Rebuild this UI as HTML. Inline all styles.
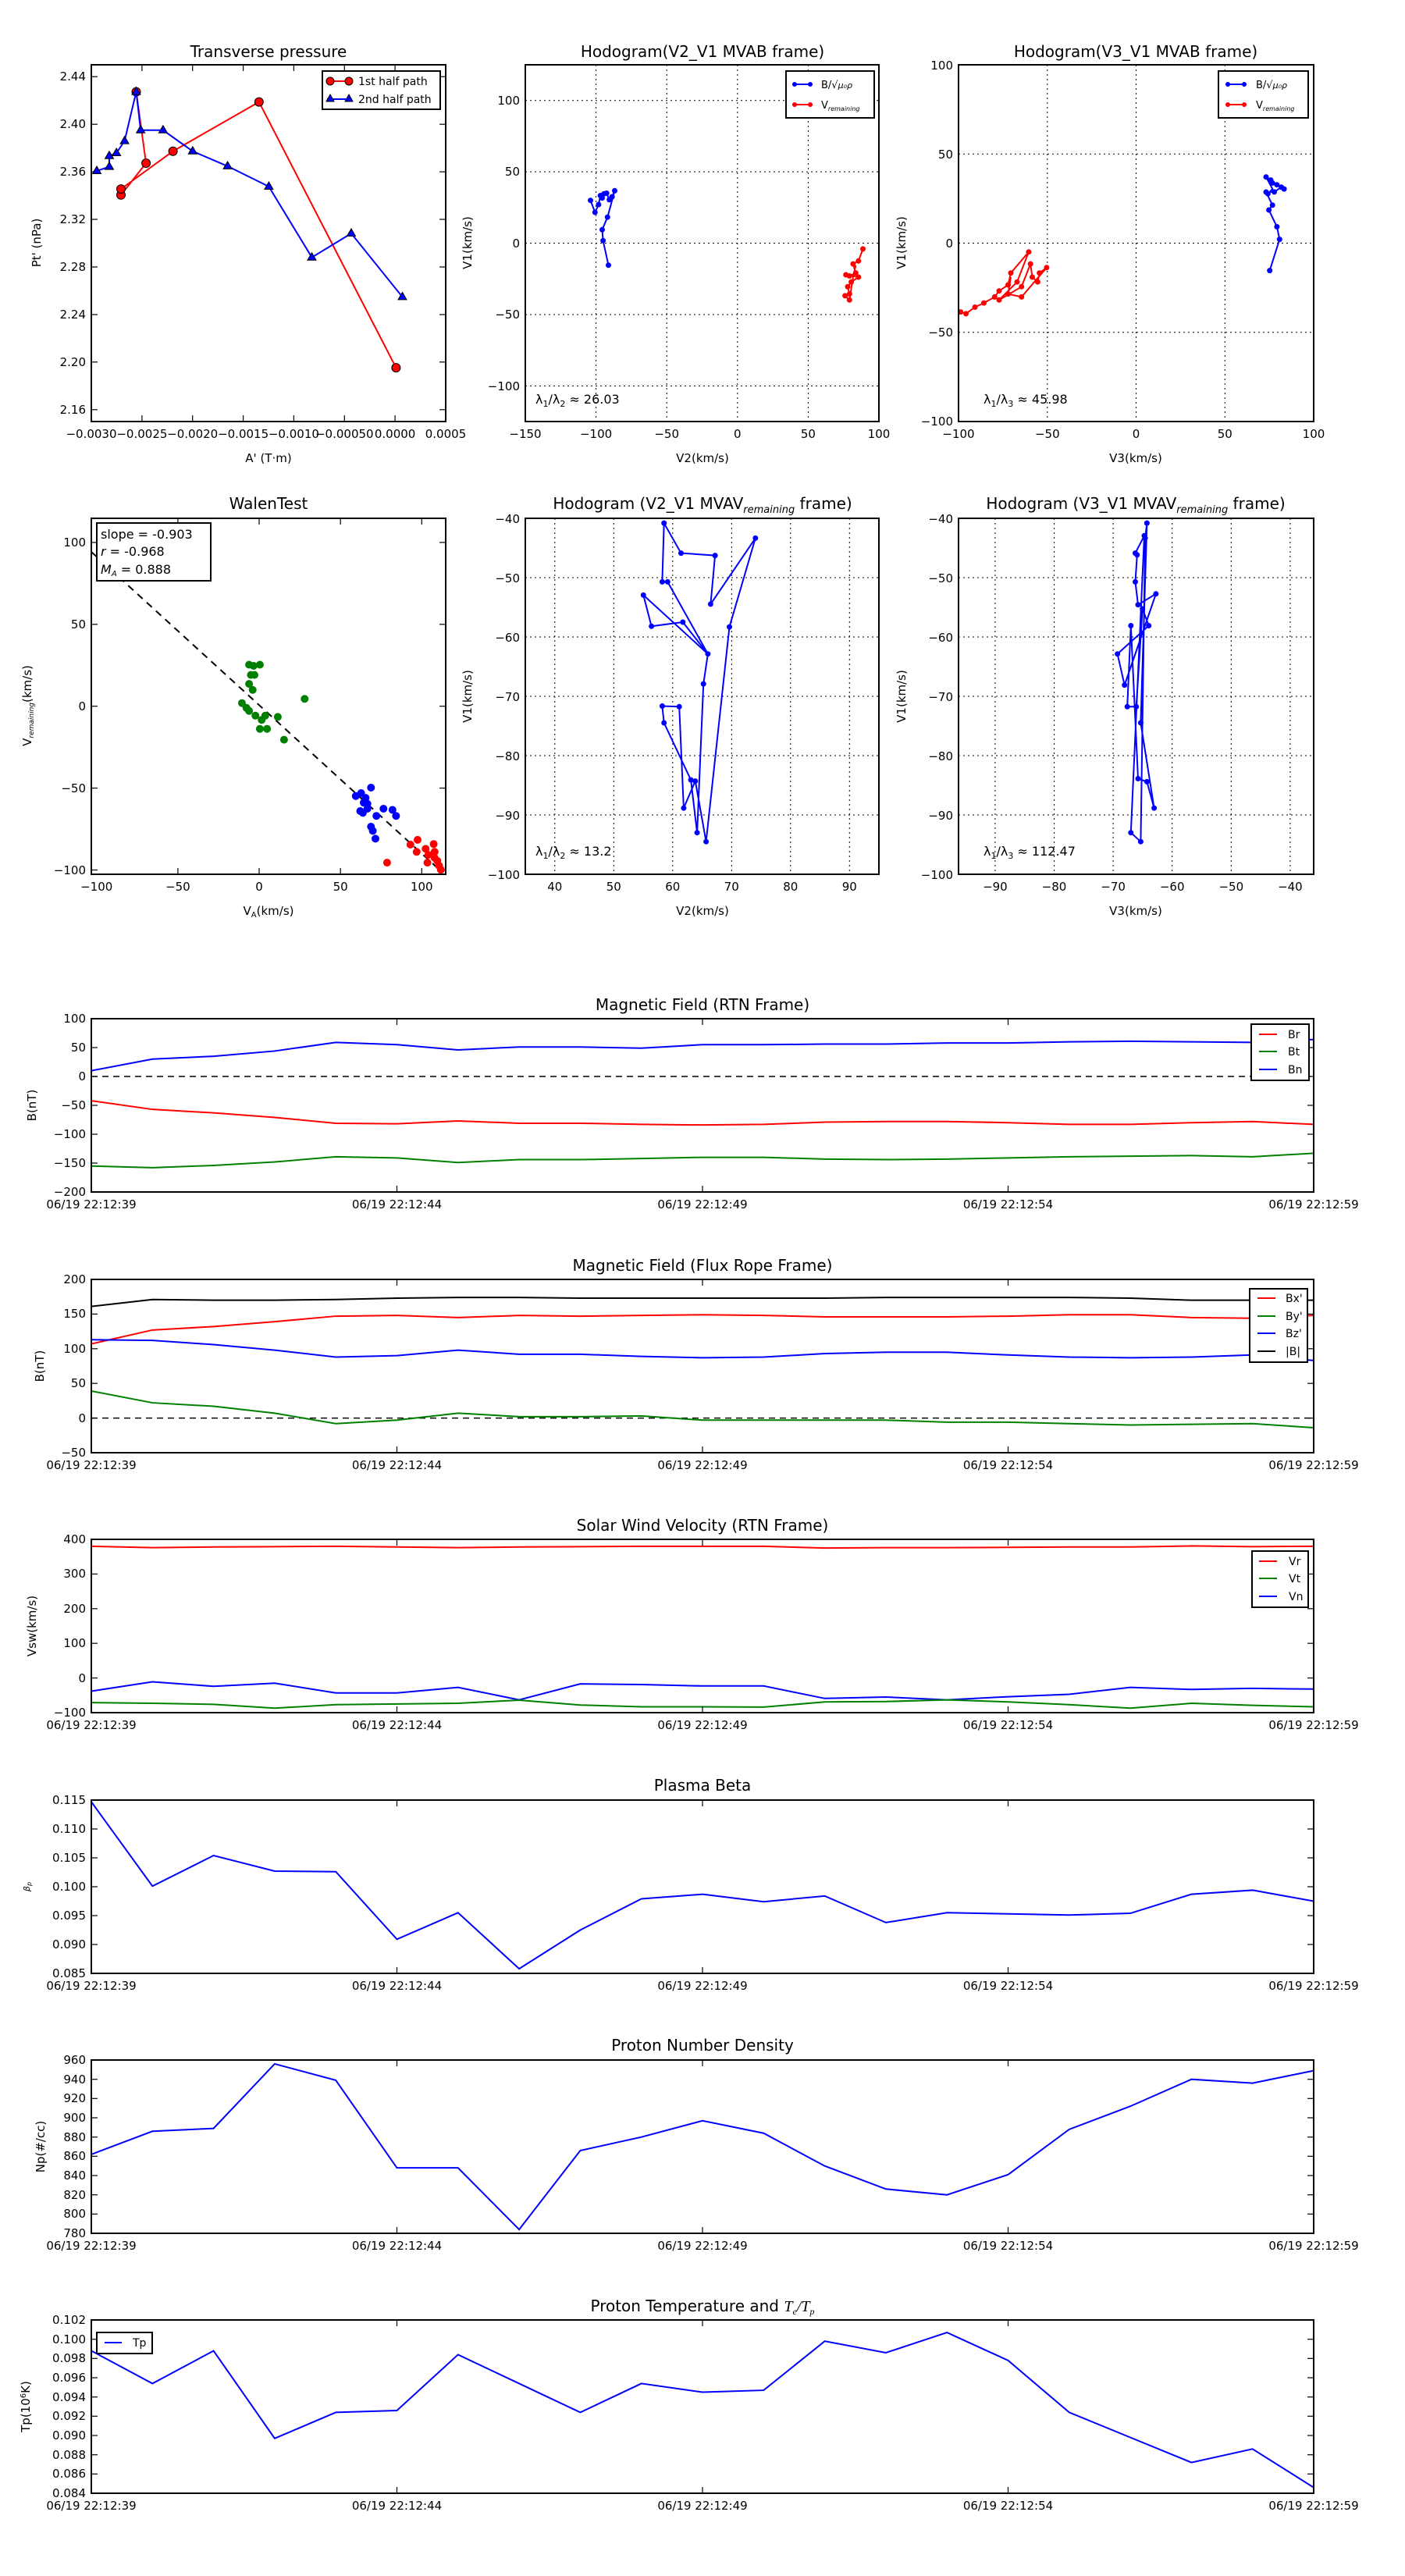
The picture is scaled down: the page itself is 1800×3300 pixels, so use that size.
<!DOCTYPE html>
<html><head><meta charset="utf-8"><style>
html,body{margin:0;padding:0;background:#fff}
svg{display:block}
text{font-family:"DejaVu Sans","Liberation Sans",sans-serif;fill:#000}
.t{font-size:15px}
.ti{font-size:20px}
.ax{fill:none;stroke:#000;stroke-width:2}
.tk{stroke:#000;stroke-width:1.2}
.grid{stroke:#000;stroke-width:1;stroke-dasharray:2,4}
.ln{fill:none;stroke-width:2;vector-effect:non-scaling-stroke}
</style></head><body>
<svg width="1800" height="3300" viewBox="0 0 1800 3300" xmlns="http://www.w3.org/2000/svg">
<rect width="1800" height="3300" fill="#fff"/>

<!-- ============ Plot 1: Transverse pressure ============ -->
<text class="ti" x="344" y="73" text-anchor="middle">Transverse pressure</text>
<g class="tk">
<line x1="117" y1="98.2" x2="125" y2="98.2"/><line x1="117" y1="159.2" x2="125" y2="159.2"/><line x1="117" y1="220.1" x2="125" y2="220.1"/><line x1="117" y1="281" x2="125" y2="281"/><line x1="117" y1="342" x2="125" y2="342"/><line x1="117" y1="403" x2="125" y2="403"/><line x1="117" y1="463.8" x2="125" y2="463.8"/><line x1="117" y1="524.8" x2="125" y2="524.8"/>
<line x1="571" y1="98.2" x2="563" y2="98.2"/><line x1="571" y1="159.2" x2="563" y2="159.2"/><line x1="571" y1="220.1" x2="563" y2="220.1"/><line x1="571" y1="281" x2="563" y2="281"/><line x1="571" y1="342" x2="563" y2="342"/><line x1="571" y1="403" x2="563" y2="403"/><line x1="571" y1="463.8" x2="563" y2="463.8"/><line x1="571" y1="524.8" x2="563" y2="524.8"/>
<line x1="181.9" y1="83" x2="181.9" y2="91"/><line x1="246.7" y1="83" x2="246.7" y2="91"/><line x1="311.6" y1="83" x2="311.6" y2="91"/><line x1="376.4" y1="83" x2="376.4" y2="91"/><line x1="441.3" y1="83" x2="441.3" y2="91"/><line x1="506.1" y1="83" x2="506.1" y2="91"/>
<line x1="181.9" y1="540" x2="181.9" y2="532"/><line x1="246.7" y1="540" x2="246.7" y2="532"/><line x1="311.6" y1="540" x2="311.6" y2="532"/><line x1="376.4" y1="540" x2="376.4" y2="532"/><line x1="441.3" y1="540" x2="441.3" y2="532"/><line x1="506.1" y1="540" x2="506.1" y2="532"/>
</g>
<g class="t" text-anchor="end">
<text x="110" y="103">2.44</text><text x="110" y="164">2.40</text><text x="110" y="225">2.36</text><text x="110" y="286">2.32</text><text x="110" y="347">2.28</text><text x="110" y="408">2.24</text><text x="110" y="469">2.20</text><text x="110" y="530">2.16</text>
</g>
<g class="t" text-anchor="middle">
<text x="117" y="561">−0.0030</text><text x="181.9" y="561">−0.0025</text><text x="246.7" y="561">−0.0020</text><text x="311.6" y="561">−0.0015</text><text x="376.4" y="561">−0.0010</text><text x="441.3" y="561">−0.00050</text><text x="506.1" y="561">0.0000</text><text x="571" y="561">0.0005</text>
</g>
<text class="t" x="344" y="592" text-anchor="middle">A' (T·m)</text>
<text class="t" x="52" y="311" text-anchor="middle" transform="rotate(-90 52 311)">Pt' (nPa)</text>
<polyline class="ln" stroke="#f00" points="174.5,117.6 187.1,209 155,249.8 155,242.1 221.6,193.7 331.8,130.6 507.4,471.1"/>
<g fill="#f00" stroke="#000" stroke-width="1">
<circle cx="174.5" cy="117.6" r="5.5"/><circle cx="187.1" cy="209" r="5.5"/><circle cx="155" cy="249.8" r="5.5"/><circle cx="155" cy="242.1" r="5.5"/><circle cx="221.6" cy="193.7" r="5.5"/><circle cx="331.8" cy="130.6" r="5.5"/><circle cx="507.4" cy="471.1" r="5.5"/>
</g>
<polyline class="ln" stroke="#00f" points="124,219 140,213.6 140,199.8 149.2,196 159.6,180.6 174.5,117.6 180.2,166.8 208.9,166.8 246.8,193.7 291.6,212.9 344.4,239 399.5,329.7 450,299 515.5,380.4"/>
<g fill="#00f" stroke="#000" stroke-width="1">
<path d="M124,213 l5.5,9.5 h-11z"/><path d="M140,207.6 l5.5,9.5 h-11z"/><path d="M140,193.8 l5.5,9.5 h-11z"/><path d="M149.2,190 l5.5,9.5 h-11z"/><path d="M159.6,174.6 l5.5,9.5 h-11z"/><path d="M174.5,111.6 l5.5,9.5 h-11z"/><path d="M180.2,160.8 l5.5,9.5 h-11z"/><path d="M208.9,160.8 l5.5,9.5 h-11z"/><path d="M246.8,187.7 l5.5,9.5 h-11z"/><path d="M291.6,206.9 l5.5,9.5 h-11z"/><path d="M344.4,233 l5.5,9.5 h-11z"/><path d="M399.5,323.7 l5.5,9.5 h-11z"/><path d="M450,293 l5.5,9.5 h-11z"/><path d="M515.5,374.4 l5.5,9.5 h-11z"/>
</g>
<rect x="413" y="91" width="151" height="49" fill="#fff" stroke="#000" stroke-width="2"/>
<line x1="419" y1="104" x2="451" y2="104" stroke="#f00" stroke-width="2"/>
<circle cx="423" cy="104" r="5" fill="#f00" stroke="#000"/><circle cx="447" cy="104" r="5" fill="#f00" stroke="#000"/>
<line x1="419" y1="127" x2="451" y2="127" stroke="#00f" stroke-width="2"/>
<path d="M423,121 l5,9 h-10z M447,121 l5,9 h-10z" fill="#00f" stroke="#000"/>
<text x="459" y="109" style="font-size:14px">1st half path</text>
<text x="459" y="132" style="font-size:14px">2nd half path</text>
<rect class="ax" x="117" y="83" width="454" height="457"/>

<!-- ============ Plot 2: Hodogram V2_V1 MVAB ============ -->
<text class="ti" x="900" y="73" text-anchor="middle">Hodogram(V2_V1 MVAB frame)</text>
<g class="grid">
<line x1="763.6" y1="83" x2="763.6" y2="540"/><line x1="854.2" y1="83" x2="854.2" y2="540"/><line x1="944.8" y1="83" x2="944.8" y2="540"/><line x1="1035.4" y1="83" x2="1035.4" y2="540"/>
<line x1="673" y1="128.7" x2="1126" y2="128.7"/><line x1="673" y1="220.1" x2="1126" y2="220.1"/><line x1="673" y1="311.5" x2="1126" y2="311.5"/><line x1="673" y1="403" x2="1126" y2="403"/><line x1="673" y1="494.4" x2="1126" y2="494.4"/>
</g>
<g class="t" text-anchor="end">
<text x="666" y="134">100</text><text x="666" y="225">50</text><text x="666" y="317">0</text><text x="666" y="408">−50</text><text x="666" y="500">−100</text>
</g>
<g class="t" text-anchor="middle">
<text x="673" y="561">−150</text><text x="763.6" y="561">−100</text><text x="854.2" y="561">−50</text><text x="944.8" y="561">0</text><text x="1035.4" y="561">50</text><text x="1126" y="561">100</text>
</g>
<text class="t" x="900" y="592" text-anchor="middle">V2(km/s)</text>
<text class="t" x="604" y="311" text-anchor="middle" transform="rotate(-90 604 311)">V1(km/s)</text>
<polyline class="ln" stroke="#00f" points="779.5,339.7 772.6,308.2 771.5,294.3 778.3,278.2 787.5,244.4 784.1,252.1 780.6,255.9 777.2,247.5 773.8,248.2 771.5,253.6 769.2,250.5 766.9,262 762.3,272 756.5,256.7"/>
<g fill="#00f"><circle cx="779.5" cy="339.7" r="3.5"/><circle cx="772.6" cy="308.2" r="3.5"/><circle cx="771.5" cy="294.3" r="3.5"/><circle cx="778.3" cy="278.2" r="3.5"/><circle cx="787.5" cy="244.4" r="3.5"/><circle cx="784.1" cy="252.1" r="3.5"/><circle cx="780.6" cy="255.9" r="3.5"/><circle cx="777.2" cy="247.5" r="3.5"/><circle cx="773.8" cy="248.2" r="3.5"/><circle cx="771.5" cy="253.6" r="3.5"/><circle cx="769.2" cy="250.5" r="3.5"/><circle cx="766.9" cy="262" r="3.5"/><circle cx="762.3" cy="272" r="3.5"/><circle cx="756.5" cy="256.7" r="3.5"/></g>
<polyline class="ln" stroke="#f00" points="1105.5,318.9 1099.8,334.3 1092.9,338.1 1096.3,349.7 1088.3,353.5 1083.7,352 1099.8,355 1090.6,361.2 1086,367.3 1088.3,376.6 1082.6,378.9 1088.3,384.3 1092.9,355 1096.3,340"/>
<g fill="#f00"><circle cx="1105.5" cy="318.9" r="3.5"/><circle cx="1099.8" cy="334.3" r="3.5"/><circle cx="1092.9" cy="338.1" r="3.5"/><circle cx="1096.3" cy="349.7" r="3.5"/><circle cx="1088.3" cy="353.5" r="3.5"/><circle cx="1083.7" cy="352" r="3.5"/><circle cx="1099.8" cy="355" r="3.5"/><circle cx="1090.6" cy="361.2" r="3.5"/><circle cx="1086" cy="367.3" r="3.5"/><circle cx="1088.3" cy="376.6" r="3.5"/><circle cx="1082.6" cy="378.9" r="3.5"/><circle cx="1088.3" cy="384.3" r="3.5"/></g>
<text x="686" y="517" style="font-size:16px">λ<tspan font-size="11" dy="4">1</tspan><tspan dy="-4">/λ</tspan><tspan font-size="11" dy="4">2</tspan><tspan dy="-4"> ≈ 26.03</tspan></text>
<rect x="1007" y="91" width="113" height="60" fill="#fff" stroke="#000" stroke-width="2"/>
<line x1="1015" y1="108" x2="1041" y2="108" stroke="#00f" stroke-width="2"/><circle cx="1018" cy="108" r="3" fill="#00f"/><circle cx="1038" cy="108" r="3" fill="#00f"/>
<line x1="1015" y1="134" x2="1041" y2="134" stroke="#f00" stroke-width="2"/><circle cx="1018" cy="134" r="3" fill="#f00"/><circle cx="1038" cy="134" r="3" fill="#f00"/>
<text x="1052" y="113" style="font-size:13px">B/√<tspan font-style="italic" font-size="11">μ₀ρ</tspan></text>
<text x="1052" y="139" style="font-size:13px">V<tspan font-size="8" dy="3" font-style="italic">remaining</tspan></text>
<rect class="ax" x="673" y="83" width="453" height="457"/>

<!-- ============ Plot 3: Hodogram V3_V1 MVAB ============ -->
<text class="ti" x="1455" y="73" text-anchor="middle">Hodogram(V3_V1 MVAB frame)</text>
<g class="grid">
<line x1="1341.8" y1="83" x2="1341.8" y2="540"/><line x1="1455.5" y1="83" x2="1455.5" y2="540"/><line x1="1569.3" y1="83" x2="1569.3" y2="540"/>
<line x1="1228" y1="197.3" x2="1683" y2="197.3"/><line x1="1228" y1="311.5" x2="1683" y2="311.5"/><line x1="1228" y1="425.8" x2="1683" y2="425.8"/>
</g>
<g class="t" text-anchor="end">
<text x="1221" y="89">100</text><text x="1221" y="203">50</text><text x="1221" y="317">0</text><text x="1221" y="431">−50</text><text x="1221" y="545">−100</text>
</g>
<g class="t" text-anchor="middle">
<text x="1228" y="561">−100</text><text x="1341.8" y="561">−50</text><text x="1455.5" y="561">0</text><text x="1569.3" y="561">50</text><text x="1683" y="561">100</text>
</g>
<text class="t" x="1455" y="592" text-anchor="middle">V3(km/s)</text>
<text class="t" x="1160" y="311" text-anchor="middle" transform="rotate(-90 1160 311)">V1(km/s)</text>
<polyline class="ln" stroke="#00f" points="1626.7,346.6 1639.3,306.6 1635.9,290.5 1625.6,269 1630.2,262.8 1622,246 1632.5,245.9 1641.6,239.8 1645.1,242.1 1635.9,236.7 1630.2,234.4 1627.9,230.6 1622,226.7 1630.2,242 1624.4,248.2"/>
<g fill="#00f"><circle cx="1626.7" cy="346.6" r="3.5"/><circle cx="1639.3" cy="306.6" r="3.5"/><circle cx="1635.9" cy="290.5" r="3.5"/><circle cx="1625.6" cy="269" r="3.5"/><circle cx="1630.2" cy="262.8" r="3.5"/><circle cx="1622" cy="246" r="3.5"/><circle cx="1632.5" cy="245.9" r="3.5"/><circle cx="1641.6" cy="239.8" r="3.5"/><circle cx="1645.1" cy="242.1" r="3.5"/><circle cx="1635.9" cy="236.7" r="3.5"/><circle cx="1630.2" cy="234.4" r="3.5"/><circle cx="1627.9" cy="230.6" r="3.5"/><circle cx="1622" cy="226.7" r="3.5"/><circle cx="1624.4" cy="248.2" r="3.5"/></g>
<polyline class="ln" stroke="#f00" points="1230.7,399.6 1237.5,401.9 1249,393.5 1260.5,388.1 1274.3,380.4 1280,372.7 1291.5,365 1295,349.7 1317.9,322.8 1303,361.2 1280,384.3 1308.7,367.3 1320.2,338.1 1322.5,355 1329.4,361.2 1331.7,349.7 1340.9,342.8 1308.7,380.4 1291.5,376.6 1295,355"/>
<g fill="#f00"><circle cx="1230.7" cy="399.6" r="3.5"/><circle cx="1237.5" cy="401.9" r="3.5"/><circle cx="1249" cy="393.5" r="3.5"/><circle cx="1260.5" cy="388.1" r="3.5"/><circle cx="1274.3" cy="380.4" r="3.5"/><circle cx="1280" cy="372.7" r="3.5"/><circle cx="1291.5" cy="365" r="3.5"/><circle cx="1295" cy="349.7" r="3.5"/><circle cx="1317.9" cy="322.8" r="3.5"/><circle cx="1303" cy="361.2" r="3.5"/><circle cx="1280" cy="384.3" r="3.5"/><circle cx="1308.7" cy="367.3" r="3.5"/><circle cx="1320.2" cy="338.1" r="3.5"/><circle cx="1322.5" cy="355" r="3.5"/><circle cx="1329.4" cy="361.2" r="3.5"/><circle cx="1331.7" cy="349.7" r="3.5"/><circle cx="1340.9" cy="342.8" r="3.5"/><circle cx="1308.7" cy="380.4" r="3.5"/><circle cx="1291.5" cy="376.6" r="3.5"/></g>
<text x="1260" y="517" style="font-size:16px">λ<tspan font-size="11" dy="4">1</tspan><tspan dy="-4">/λ</tspan><tspan font-size="11" dy="4">3</tspan><tspan dy="-4"> ≈ 45.98</tspan></text>
<rect x="1561" y="91" width="115" height="60" fill="#fff" stroke="#000" stroke-width="2"/>
<line x1="1570" y1="108" x2="1597" y2="108" stroke="#00f" stroke-width="2"/><circle cx="1573" cy="108" r="3" fill="#00f"/><circle cx="1594" cy="108" r="3" fill="#00f"/>
<line x1="1570" y1="134" x2="1597" y2="134" stroke="#f00" stroke-width="2"/><circle cx="1573" cy="134" r="3" fill="#f00"/><circle cx="1594" cy="134" r="3" fill="#f00"/>
<text x="1609" y="113" style="font-size:13px">B/√<tspan font-style="italic" font-size="11">μ₀ρ</tspan></text>
<text x="1609" y="139" style="font-size:13px">V<tspan font-size="8" dy="3" font-style="italic">remaining</tspan></text>
<rect class="ax" x="1228" y="83" width="455" height="457"/>

<!-- ============ Plot 4: WalenTest ============ -->
<text class="ti" x="344" y="652" text-anchor="middle">WalenTest</text>
<g class="tk">
<line x1="117" y1="694.9" x2="125" y2="694.9"/><line x1="117" y1="799.8" x2="125" y2="799.8"/><line x1="117" y1="904.7" x2="125" y2="904.7"/><line x1="117" y1="1009.6" x2="125" y2="1009.6"/><line x1="117" y1="1114.5" x2="125" y2="1114.5"/>
<line x1="571" y1="694.9" x2="563" y2="694.9"/><line x1="571" y1="799.8" x2="563" y2="799.8"/><line x1="571" y1="904.7" x2="563" y2="904.7"/><line x1="571" y1="1009.6" x2="563" y2="1009.6"/><line x1="571" y1="1114.5" x2="563" y2="1114.5"/>
<line x1="227.9" y1="664" x2="227.9" y2="672"/><line x1="332" y1="664" x2="332" y2="672"/><line x1="436.2" y1="664" x2="436.2" y2="672"/><line x1="540.3" y1="664" x2="540.3" y2="672"/>
<line x1="227.9" y1="1120" x2="227.9" y2="1112"/><line x1="332" y1="1120" x2="332" y2="1112"/><line x1="436.2" y1="1120" x2="436.2" y2="1112"/><line x1="540.3" y1="1120" x2="540.3" y2="1112"/>
</g>
<g class="t" text-anchor="end">
<text x="110" y="700">100</text><text x="110" y="805">50</text><text x="110" y="910">0</text><text x="110" y="1015">−50</text><text x="110" y="1120">−100</text>
</g>
<g class="t" text-anchor="middle">
<text x="123.7" y="1141">−100</text><text x="227.9" y="1141">−50</text><text x="332" y="1141">0</text><text x="436.2" y="1141">50</text><text x="540.3" y="1141">100</text>
</g>
<text class="t" x="344" y="1172" text-anchor="middle">V<tspan font-size="10" dy="3">A</tspan><tspan dy="-3">(km/s)</tspan></text>
<text class="t" x="40" y="904" text-anchor="middle" transform="rotate(-90 40 904)">V<tspan font-size="9" dy="3" font-style="italic">remaining</tspan><tspan dy="-3">(km/s)</tspan></text>
<line x1="117" y1="707" x2="565" y2="1116" stroke="#000" stroke-width="2" stroke-dasharray="9,7"/>
<g fill="#008000">
<circle cx="319.1" cy="851.5" r="5"/><circle cx="324.9" cy="853" r="5"/><circle cx="332.9" cy="851.5" r="5"/><circle cx="321.4" cy="864.6" r="5"/><circle cx="326" cy="864.6" r="5"/><circle cx="319.1" cy="876.1" r="5"/><circle cx="323.7" cy="883.8" r="5"/><circle cx="310" cy="900.7" r="5"/><circle cx="315.7" cy="906.8" r="5"/><circle cx="319.1" cy="910.7" r="5"/><circle cx="327.2" cy="916.8" r="5"/><circle cx="335.2" cy="922.2" r="5"/><circle cx="339.8" cy="916.8" r="5"/><circle cx="342.1" cy="933.7" r="5"/><circle cx="332.9" cy="933.7" r="5"/><circle cx="355.9" cy="918.4" r="5"/><circle cx="363.9" cy="947.6" r="5"/><circle cx="390.3" cy="895.3" r="5"/>
</g>
<g fill="#00f">
<circle cx="455.8" cy="1019.8" r="5"/><circle cx="462.6" cy="1016" r="5"/><circle cx="468.4" cy="1022.1" r="5"/><circle cx="461.5" cy="1039" r="5"/><circle cx="464.9" cy="1041.3" r="5"/><circle cx="470.7" cy="1036" r="5"/><circle cx="475.3" cy="1009" r="5"/><circle cx="470.7" cy="1029.8" r="5"/><circle cx="482.2" cy="1045.2" r="5"/><circle cx="491.3" cy="1036" r="5"/><circle cx="502.8" cy="1037.5" r="5"/><circle cx="507.4" cy="1045.2" r="5"/><circle cx="475.3" cy="1059" r="5"/><circle cx="477.6" cy="1064.4" r="5"/><circle cx="481" cy="1074.4" r="5"/><circle cx="466" cy="1028.3" r="5"/>
</g>
<g fill="#f00">
<circle cx="495.9" cy="1105.1" r="5"/><circle cx="525.8" cy="1082" r="5"/><circle cx="535" cy="1075.9" r="5"/><circle cx="533.8" cy="1091.3" r="5"/><circle cx="545.3" cy="1087.4" r="5"/><circle cx="548.7" cy="1095.1" r="5"/><circle cx="555.6" cy="1081.3" r="5"/><circle cx="556.8" cy="1091.3" r="5"/><circle cx="560.2" cy="1102.8" r="5"/><circle cx="547.6" cy="1105.1" r="5"/><circle cx="562.5" cy="1109" r="5"/><circle cx="564.8" cy="1114.3" r="5"/><circle cx="556.8" cy="1099" r="5"/>
</g>
<rect x="124" y="670" width="146" height="74" fill="#fff" stroke="#000" stroke-width="2"/>
<text x="129" y="690" style="font-size:16px">slope = -0.903</text>
<text x="129" y="712" style="font-size:16px"><tspan font-style="italic">r</tspan> = -0.968</text>
<text x="129" y="735" style="font-size:16px"><tspan font-style="italic">M</tspan><tspan font-size="10" dy="3" font-style="italic">A</tspan><tspan dy="-3"> = 0.888</tspan></text>
<rect class="ax" x="117" y="664" width="454" height="456"/>

<!-- ============ Plot 5: Hodogram V2_V1 MVAV ============ -->
<text class="ti" x="900" y="652" text-anchor="middle">Hodogram (V2_V1 MVAV<tspan font-size="13" dy="5" font-style="italic">remaining</tspan><tspan dy="-5"> frame)</tspan></text>
<g class="grid">
<line x1="710.8" y1="664" x2="710.8" y2="1120"/><line x1="786.3" y1="664" x2="786.3" y2="1120"/><line x1="861.8" y1="664" x2="861.8" y2="1120"/><line x1="937.3" y1="664" x2="937.3" y2="1120"/><line x1="1012.8" y1="664" x2="1012.8" y2="1120"/><line x1="1088.3" y1="664" x2="1088.3" y2="1120"/>
<line x1="673" y1="740" x2="1126" y2="740"/><line x1="673" y1="816" x2="1126" y2="816"/><line x1="673" y1="892" x2="1126" y2="892"/><line x1="673" y1="968" x2="1126" y2="968"/><line x1="673" y1="1044" x2="1126" y2="1044"/>
</g>
<g class="t" text-anchor="end">
<text x="666" y="670">−40</text><text x="666" y="746">−50</text><text x="666" y="822">−60</text><text x="666" y="898">−70</text><text x="666" y="974">−80</text><text x="666" y="1050">−90</text><text x="666" y="1126">−100</text>
</g>
<g class="t" text-anchor="middle">
<text x="710.8" y="1141">40</text><text x="786.3" y="1141">50</text><text x="861.8" y="1141">60</text><text x="937.3" y="1141">70</text><text x="1012.8" y="1141">80</text><text x="1088.3" y="1141">90</text>
</g>
<text class="t" x="900" y="1172" text-anchor="middle">V2(km/s)</text>
<text class="t" x="604" y="892" text-anchor="middle" transform="rotate(-90 604 892)">V1(km/s)</text>
<polyline class="ln" stroke="#00f" points="848.4,745.4 850.7,670.1 872.5,708.6 916.1,711.6 910.4,773.9 967.8,689.4 934.5,803.1 904.6,1078.2 890.8,1000.6 875.9,1035.2 870.2,905.3 848.4,904.5 850.7,926 885.1,999.1 893.1,1066.7 901.2,876.1 906.9,837.7 824.3,762.4 834.6,802.3 874.8,797 906.9,837.7 855.3,745.4 848.4,745.4"/>
<g fill="#00f"><circle cx="848.4" cy="745.4" r="3.5"/><circle cx="855.3" cy="745.4" r="3.5"/><circle cx="850.7" cy="670.1" r="3.5"/><circle cx="872.5" cy="708.6" r="3.5"/><circle cx="916.1" cy="711.6" r="3.5"/><circle cx="910.4" cy="773.9" r="3.5"/><circle cx="967.8" cy="689.4" r="3.5"/><circle cx="934.5" cy="803.1" r="3.5"/><circle cx="904.6" cy="1078.2" r="3.5"/><circle cx="890.8" cy="1000.6" r="3.5"/><circle cx="875.9" cy="1035.2" r="3.5"/><circle cx="870.2" cy="905.3" r="3.5"/><circle cx="848.4" cy="904.5" r="3.5"/><circle cx="850.7" cy="926" r="3.5"/><circle cx="885.1" cy="999.1" r="3.5"/><circle cx="893.1" cy="1066.7" r="3.5"/><circle cx="901.2" cy="876.1" r="3.5"/><circle cx="906.9" cy="837.7" r="3.5"/><circle cx="824.3" cy="762.4" r="3.5"/><circle cx="834.6" cy="802.3" r="3.5"/><circle cx="874.8" cy="797" r="3.5"/></g>
<text x="686" y="1096" style="font-size:16px">λ<tspan font-size="11" dy="4">1</tspan><tspan dy="-4">/λ</tspan><tspan font-size="11" dy="4">2</tspan><tspan dy="-4"> ≈ 13.2</tspan></text>
<rect class="ax" x="673" y="664" width="453" height="456"/>

<!-- ============ Plot 6: Hodogram V3_V1 MVAV ============ -->
<text class="ti" x="1455" y="652" text-anchor="middle">Hodogram (V3_V1 MVAV<tspan font-size="13" dy="5" font-style="italic">remaining</tspan><tspan dy="-5"> frame)</tspan></text>
<g class="grid">
<line x1="1274.9" y1="664" x2="1274.9" y2="1120"/><line x1="1350.5" y1="664" x2="1350.5" y2="1120"/><line x1="1426.1" y1="664" x2="1426.1" y2="1120"/><line x1="1501.7" y1="664" x2="1501.7" y2="1120"/><line x1="1577.3" y1="664" x2="1577.3" y2="1120"/><line x1="1652.9" y1="664" x2="1652.9" y2="1120"/>
<line x1="1228" y1="740" x2="1683" y2="740"/><line x1="1228" y1="816" x2="1683" y2="816"/><line x1="1228" y1="892" x2="1683" y2="892"/><line x1="1228" y1="968" x2="1683" y2="968"/><line x1="1228" y1="1044" x2="1683" y2="1044"/>
</g>
<g class="t" text-anchor="end">
<text x="1221" y="670">−40</text><text x="1221" y="746">−50</text><text x="1221" y="822">−60</text><text x="1221" y="898">−70</text><text x="1221" y="974">−80</text><text x="1221" y="1050">−90</text><text x="1221" y="1126">−100</text>
</g>
<g class="t" text-anchor="middle">
<text x="1274.9" y="1141">−90</text><text x="1350.5" y="1141">−80</text><text x="1426.1" y="1141">−70</text><text x="1501.7" y="1141">−60</text><text x="1577.3" y="1141">−50</text><text x="1652.9" y="1141">−40</text>
</g>
<text class="t" x="1455" y="1172" text-anchor="middle">V3(km/s)</text>
<text class="t" x="1160" y="892" text-anchor="middle" transform="rotate(-90 1160 892)">V1(km/s)</text>
<polyline class="ln" stroke="#00f" points="1469.4,670.1 1467.1,689.3 1461.4,1078.2 1448.8,1066.7 1466,686.3 1454.5,708.6 1456.8,710.9 1454.5,745.4 1458,774.7 1480.9,760.8 1440.7,877.6 1431.6,837.7 1471.7,801.5 1463.7,780 1455.7,905.3 1444.2,905.3 1448.8,801.5 1458,997.5 1469.4,1001.4 1478.6,1035.2 1461.4,926 1469.4,670.1"/>
<g fill="#00f"><circle cx="1469.4" cy="670.1" r="3.5"/><circle cx="1467.1" cy="689.3" r="3.5"/><circle cx="1466" cy="686.3" r="3.5"/><circle cx="1454.5" cy="708.6" r="3.5"/><circle cx="1456.8" cy="710.9" r="3.5"/><circle cx="1454.5" cy="745.4" r="3.5"/><circle cx="1458" cy="774.7" r="3.5"/><circle cx="1480.9" cy="760.8" r="3.5"/><circle cx="1471.7" cy="801.5" r="3.5"/><circle cx="1448.8" cy="801.5" r="3.5"/><circle cx="1431.6" cy="837.7" r="3.5"/><circle cx="1440.7" cy="877.6" r="3.5"/><circle cx="1444.2" cy="905.3" r="3.5"/><circle cx="1455.7" cy="905.3" r="3.5"/><circle cx="1461.4" cy="926" r="3.5"/><circle cx="1458" cy="997.5" r="3.5"/><circle cx="1469.4" cy="1001.4" r="3.5"/><circle cx="1478.6" cy="1035.2" r="3.5"/><circle cx="1448.8" cy="1066.7" r="3.5"/><circle cx="1461.4" cy="1078.2" r="3.5"/><circle cx="1463.7" cy="780" r="3.5"/></g>
<text x="1260" y="1096" style="font-size:16px">λ<tspan font-size="11" dy="4">1</tspan><tspan dy="-4">/λ</tspan><tspan font-size="11" dy="4">3</tspan><tspan dy="-4"> ≈ 112.47</tspan></text>
<rect class="ax" x="1228" y="664" width="455" height="456"/>

<!-- ============ Time series common x tick labels helper done inline ============ -->

<!-- Magnetic Field RTN -->
<text class="ti" x="900" y="1294" text-anchor="middle">Magnetic Field (RTN Frame)</text>
<line x1="117" y1="1379" x2="1683" y2="1379" stroke="#000" stroke-width="1.5" stroke-dasharray="8,6"/>
<polyline class="ln" stroke="#00f" transform="translate(117,1379) scale(78.3,-0.74)" points="0,10 1,30 2,35 3,44 4,59 5,55 6,46 7,51 8,51 9,49 10,55 11,55 12,56 13,56 14,58 15,58 16,60 17,61 18,60 19,59 20,64"/>
<polyline class="ln" stroke="#f00" transform="translate(117,1379) scale(78.3,-0.74)" points="0,-42 1,-57 2,-63 3,-71 4,-81 5,-82 6,-77 7,-81 8,-81 9,-83 10,-84 11,-83 12,-79 13,-78 14,-78 15,-80 16,-83 17,-83 18,-80 19,-78 20,-83"/>
<polyline class="ln" stroke="#008000" transform="translate(117,1379) scale(78.3,-0.74)" points="0,-155 1,-158 2,-154 3,-148 4,-139 5,-141 6,-149 7,-144 8,-144 9,-142 10,-140 11,-140 12,-143 13,-144 14,-143 15,-141 16,-139 17,-138 18,-137 19,-139 20,-133"/>
<g class="t" text-anchor="end"><text x="110" y="1310">100</text><text x="110" y="1347">50</text><text x="110" y="1384">0</text><text x="110" y="1421">−50</text><text x="110" y="1458">−100</text><text x="110" y="1495">−150</text><text x="110" y="1532">−200</text></g>
<g class="tk"><line x1="117" y1="1342" x2="125" y2="1342"/><line x1="117" y1="1379" x2="125" y2="1379"/><line x1="117" y1="1416" x2="125" y2="1416"/><line x1="117" y1="1453" x2="125" y2="1453"/><line x1="117" y1="1490" x2="125" y2="1490"/>
<line x1="1683" y1="1342" x2="1675" y2="1342"/><line x1="1683" y1="1379" x2="1675" y2="1379"/><line x1="1683" y1="1416" x2="1675" y2="1416"/><line x1="1683" y1="1453" x2="1675" y2="1453"/><line x1="1683" y1="1490" x2="1675" y2="1490"/>
<line x1="508.5" y1="1305" x2="508.5" y2="1313"/><line x1="900" y1="1305" x2="900" y2="1313"/><line x1="1291.5" y1="1305" x2="1291.5" y2="1313"/>
<line x1="508.5" y1="1527" x2="508.5" y2="1519"/><line x1="900" y1="1527" x2="900" y2="1519"/><line x1="1291.5" y1="1527" x2="1291.5" y2="1519"/></g>
<g class="t" text-anchor="middle"><text x="117" y="1548">06/19 22:12:39</text><text x="508.5" y="1548">06/19 22:12:44</text><text x="900" y="1548">06/19 22:12:49</text><text x="1291.5" y="1548">06/19 22:12:54</text><text x="1683" y="1548">06/19 22:12:59</text></g>
<text class="t" x="46" y="1416" text-anchor="middle" transform="rotate(-90 46 1416)">B(nT)</text>
<rect x="1603" y="1312" width="74" height="72" fill="#fff" stroke="#000" stroke-width="2"/>
<line x1="1613" y1="1325" x2="1636" y2="1325" stroke="#f00" stroke-width="2"/><line x1="1613" y1="1347" x2="1636" y2="1347" stroke="#008000" stroke-width="2"/><line x1="1613" y1="1370" x2="1636" y2="1370" stroke="#00f" stroke-width="2"/>
<g style="font-size:14px"><text x="1650" y="1330">Br</text><text x="1650" y="1352">Bt</text><text x="1650" y="1375">Bn</text></g>
<rect class="ax" x="117" y="1305" width="1566" height="222"/>

<!-- Magnetic Field Flux Rope -->
<text class="ti" x="900" y="1628" text-anchor="middle">Magnetic Field (Flux Rope Frame)</text>
<line x1="117" y1="1816.6" x2="1683" y2="1816.6" stroke="#000" stroke-width="1.5" stroke-dasharray="8,6"/>
<polyline class="ln" stroke="#000" transform="translate(117,1816.6) scale(78.3,-0.888)" points="0,161 1,171 2,170 3,170 4,171 5,173 6,174 7,174 8,173 9,173 10,173 11,173 12,173 13,174 14,174 15,174 16,174 17,173 18,170 19,170 20,170"/>
<polyline class="ln" stroke="#f00" transform="translate(117,1816.6) scale(78.3,-0.888)" points="0,107 1,127 2,132 3,139 4,147 5,148 6,145 7,148 8,147 9,148 10,149 11,148 12,146 13,146 14,146 15,147 16,149 17,149 18,145 19,144 20,148"/>
<polyline class="ln" stroke="#00f" transform="translate(117,1816.6) scale(78.3,-0.888)" points="0,113 1,112 2,106 3,98 4,88 5,90 6,98 7,92 8,92 9,89 10,87 11,88 12,93 13,95 14,95 15,91 16,88 17,87 18,88 19,91 20,83"/>
<polyline class="ln" stroke="#008000" transform="translate(117,1816.6) scale(78.3,-0.888)" points="0,39 1,22 2,17 3,7 4,-8 5,-3 6,7 7,2 8,2 9,3 10,-3 11,-3 12,-3 13,-3 14,-6 15,-6 16,-8 17,-10 18,-9 19,-8 20,-14"/>
<g class="t" text-anchor="end"><text x="110" y="1644">200</text><text x="110" y="1688">150</text><text x="110" y="1733">100</text><text x="110" y="1777">50</text><text x="110" y="1822">0</text><text x="110" y="1866">−50</text></g>
<g class="tk"><line x1="117" y1="1683.4" x2="125" y2="1683.4"/><line x1="117" y1="1727.8" x2="125" y2="1727.8"/><line x1="117" y1="1772.2" x2="125" y2="1772.2"/><line x1="117" y1="1816.6" x2="125" y2="1816.6"/>
<line x1="1683" y1="1683.4" x2="1675" y2="1683.4"/><line x1="1683" y1="1727.8" x2="1675" y2="1727.8"/><line x1="1683" y1="1772.2" x2="1675" y2="1772.2"/><line x1="1683" y1="1816.6" x2="1675" y2="1816.6"/>
<line x1="508.5" y1="1639" x2="508.5" y2="1647"/><line x1="900" y1="1639" x2="900" y2="1647"/><line x1="1291.5" y1="1639" x2="1291.5" y2="1647"/>
<line x1="508.5" y1="1861" x2="508.5" y2="1853"/><line x1="900" y1="1861" x2="900" y2="1853"/><line x1="1291.5" y1="1861" x2="1291.5" y2="1853"/></g>
<g class="t" text-anchor="middle"><text x="117" y="1882">06/19 22:12:39</text><text x="508.5" y="1882">06/19 22:12:44</text><text x="900" y="1882">06/19 22:12:49</text><text x="1291.5" y="1882">06/19 22:12:54</text><text x="1683" y="1882">06/19 22:12:59</text></g>
<text class="t" x="56" y="1750" text-anchor="middle" transform="rotate(-90 56 1750)">B(nT)</text>
<rect x="1601" y="1651" width="74" height="94" fill="#fff" stroke="#000" stroke-width="2"/>
<line x1="1611" y1="1663" x2="1634" y2="1663" stroke="#f00" stroke-width="2"/><line x1="1611" y1="1686" x2="1634" y2="1686" stroke="#008000" stroke-width="2"/><line x1="1611" y1="1708" x2="1634" y2="1708" stroke="#00f" stroke-width="2"/><line x1="1611" y1="1731" x2="1634" y2="1731" stroke="#000" stroke-width="2"/>
<g style="font-size:14px"><text x="1647" y="1668">Bx'</text><text x="1647" y="1691">By'</text><text x="1647" y="1713">Bz'</text><text x="1647" y="1736">|B|</text></g>
<rect class="ax" x="117" y="1639" width="1566" height="222"/>

<!-- Solar Wind Velocity -->
<text class="ti" x="900" y="1961" text-anchor="middle">Solar Wind Velocity (RTN Frame)</text>
<polyline class="ln" stroke="#f00" transform="translate(117,2149.6) scale(78.3,-0.444)" points="0,380 1,376 2,378 3,379 4,380 5,378 6,376 7,378 8,379 9,380 10,380 11,380 12,375 13,376 14,376 15,377 16,378 17,378 18,381 19,379 20,380"/>
<polyline class="ln" stroke="#00f" transform="translate(117,2149.6) scale(78.3,-0.444)" points="0,-38 1,-11 2,-24 3,-15 4,-43 5,-43 6,-27 7,-63 8,-17 9,-19 10,-23 11,-23 12,-59 13,-55 14,-63 15,-54 16,-47 17,-27 18,-33 19,-30 20,-32"/>
<polyline class="ln" stroke="#008000" transform="translate(117,2149.6) scale(78.3,-0.444)" points="0,-71 1,-73 2,-76 3,-87 4,-77 5,-75 6,-73 7,-64 8,-78 9,-83 10,-83 11,-84 12,-69 13,-68 14,-63 15,-69 16,-77 17,-87 18,-73 19,-79 20,-83"/>
<g class="t" text-anchor="end"><text x="110" y="1977">400</text><text x="110" y="2021">300</text><text x="110" y="2066">200</text><text x="110" y="2110">100</text><text x="110" y="2155">0</text><text x="110" y="2199">−100</text></g>
<g class="tk"><line x1="117" y1="2016.4" x2="125" y2="2016.4"/><line x1="117" y1="2060.8" x2="125" y2="2060.8"/><line x1="117" y1="2105.2" x2="125" y2="2105.2"/><line x1="117" y1="2149.6" x2="125" y2="2149.6"/>
<line x1="1683" y1="2016.4" x2="1675" y2="2016.4"/><line x1="1683" y1="2060.8" x2="1675" y2="2060.8"/><line x1="1683" y1="2105.2" x2="1675" y2="2105.2"/><line x1="1683" y1="2149.6" x2="1675" y2="2149.6"/>
<line x1="508.5" y1="1972" x2="508.5" y2="1980"/><line x1="900" y1="1972" x2="900" y2="1980"/><line x1="1291.5" y1="1972" x2="1291.5" y2="1980"/>
<line x1="508.5" y1="2194" x2="508.5" y2="2186"/><line x1="900" y1="2194" x2="900" y2="2186"/><line x1="1291.5" y1="2194" x2="1291.5" y2="2186"/></g>
<g class="t" text-anchor="middle"><text x="117" y="2215">06/19 22:12:39</text><text x="508.5" y="2215">06/19 22:12:44</text><text x="900" y="2215">06/19 22:12:49</text><text x="1291.5" y="2215">06/19 22:12:54</text><text x="1683" y="2215">06/19 22:12:59</text></g>
<text class="t" x="46" y="2083" text-anchor="middle" transform="rotate(-90 46 2083)">Vsw(km/s)</text>
<rect x="1604" y="1987" width="72" height="72" fill="#fff" stroke="#000" stroke-width="2"/>
<line x1="1613" y1="2000" x2="1636" y2="2000" stroke="#f00" stroke-width="2"/><line x1="1613" y1="2022" x2="1636" y2="2022" stroke="#008000" stroke-width="2"/><line x1="1613" y1="2045" x2="1636" y2="2045" stroke="#00f" stroke-width="2"/>
<g style="font-size:14px"><text x="1651" y="2005">Vr</text><text x="1651" y="2027">Vt</text><text x="1651" y="2050">Vn</text></g>
<rect class="ax" x="117" y="1972" width="1566" height="222"/>

<!-- Plasma Beta -->
<text class="ti" x="900" y="2294" text-anchor="middle">Plasma Beta</text>
<polyline class="ln" stroke="#00f" transform="translate(117,3157) scale(78.3,-7.4)" points="0,114.7 1,100.1 2,105.4 3,102.7 4,102.6 5,90.9 6,95.5 7,85.8 8,92.5 9,97.9 10,98.7 11,97.4 12,98.4 13,93.8 14,95.5 15,95.3 16,95.1 17,95.4 18,98.7 19,99.4 20,97.5"/>
<g class="t" text-anchor="end"><text x="110" y="2311">0.115</text><text x="110" y="2348">0.110</text><text x="110" y="2385">0.105</text><text x="110" y="2422">0.100</text><text x="110" y="2459">0.095</text><text x="110" y="2496">0.090</text><text x="110" y="2533">0.085</text></g>
<g class="tk"><line x1="117" y1="2343" x2="125" y2="2343"/><line x1="117" y1="2380" x2="125" y2="2380"/><line x1="117" y1="2417" x2="125" y2="2417"/><line x1="117" y1="2454" x2="125" y2="2454"/><line x1="117" y1="2491" x2="125" y2="2491"/>
<line x1="1683" y1="2343" x2="1675" y2="2343"/><line x1="1683" y1="2380" x2="1675" y2="2380"/><line x1="1683" y1="2417" x2="1675" y2="2417"/><line x1="1683" y1="2454" x2="1675" y2="2454"/><line x1="1683" y1="2491" x2="1675" y2="2491"/>
<line x1="508.5" y1="2306" x2="508.5" y2="2314"/><line x1="900" y1="2306" x2="900" y2="2314"/><line x1="1291.5" y1="2306" x2="1291.5" y2="2314"/>
<line x1="508.5" y1="2528" x2="508.5" y2="2520"/><line x1="900" y1="2528" x2="900" y2="2520"/><line x1="1291.5" y1="2528" x2="1291.5" y2="2520"/></g>
<g class="t" text-anchor="middle"><text x="117" y="2549">06/19 22:12:39</text><text x="508.5" y="2549">06/19 22:12:44</text><text x="900" y="2549">06/19 22:12:49</text><text x="1291.5" y="2549">06/19 22:12:54</text><text x="1683" y="2549">06/19 22:12:59</text></g>
<text x="38" y="2417" text-anchor="middle" transform="rotate(-90 38 2417)" style="font-size:11px;font-style:italic">β<tspan font-size="8" dy="2">p</tspan></text>
<rect class="ax" x="117" y="2306" width="1566" height="222"/>

<!-- Proton Number Density -->
<text class="ti" x="900" y="2627" text-anchor="middle">Proton Number Density</text>
<polyline class="ln" stroke="#00f" transform="translate(117,3823) scale(78.3,-1.2333)" points="0,862 1,886 2,889 3,956 4,939 5,848 6,848 7,784 8,866 9,880 10,897 11,884 12,850 13,826 14,820 15,841 16,888 17,912 18,940 19,936 20,949"/>
<g class="t" text-anchor="end"><text x="110" y="2644">960</text><text x="110" y="2669">940</text><text x="110" y="2693">920</text><text x="110" y="2718">900</text><text x="110" y="2743">880</text><text x="110" y="2767">860</text><text x="110" y="2792">840</text><text x="110" y="2817">820</text><text x="110" y="2841">800</text><text x="110" y="2866">780</text></g>
<g class="tk"><line x1="117" y1="2663.7" x2="125" y2="2663.7"/><line x1="117" y1="2688.3" x2="125" y2="2688.3"/><line x1="117" y1="2713" x2="125" y2="2713"/><line x1="117" y1="2737.7" x2="125" y2="2737.7"/><line x1="117" y1="2762.3" x2="125" y2="2762.3"/><line x1="117" y1="2787" x2="125" y2="2787"/><line x1="117" y1="2811.7" x2="125" y2="2811.7"/><line x1="117" y1="2836.3" x2="125" y2="2836.3"/>
<line x1="1683" y1="2663.7" x2="1675" y2="2663.7"/><line x1="1683" y1="2688.3" x2="1675" y2="2688.3"/><line x1="1683" y1="2713" x2="1675" y2="2713"/><line x1="1683" y1="2737.7" x2="1675" y2="2737.7"/><line x1="1683" y1="2762.3" x2="1675" y2="2762.3"/><line x1="1683" y1="2787" x2="1675" y2="2787"/><line x1="1683" y1="2811.7" x2="1675" y2="2811.7"/><line x1="1683" y1="2836.3" x2="1675" y2="2836.3"/>
<line x1="508.5" y1="2639" x2="508.5" y2="2647"/><line x1="900" y1="2639" x2="900" y2="2647"/><line x1="1291.5" y1="2639" x2="1291.5" y2="2647"/>
<line x1="508.5" y1="2861" x2="508.5" y2="2853"/><line x1="900" y1="2861" x2="900" y2="2853"/><line x1="1291.5" y1="2861" x2="1291.5" y2="2853"/></g>
<g class="t" text-anchor="middle"><text x="117" y="2882">06/19 22:12:39</text><text x="508.5" y="2882">06/19 22:12:44</text><text x="900" y="2882">06/19 22:12:49</text><text x="1291.5" y="2882">06/19 22:12:54</text><text x="1683" y="2882">06/19 22:12:59</text></g>
<text class="t" x="57" y="2750" text-anchor="middle" transform="rotate(-90 57 2750)">Np(#/cc)</text>
<rect class="ax" x="117" y="2639" width="1566" height="222"/>

<!-- Proton Temperature -->
<text class="ti" x="900" y="2961" text-anchor="middle">Proton Temperature and <tspan font-style="italic" font-family="Liberation Serif">T<tspan font-size="12" dy="4">e</tspan><tspan dy="-4">/T</tspan><tspan font-size="12" dy="4">p</tspan></tspan></text>
<polyline class="ln" stroke="#00f" transform="translate(117,4230) scale(78.3,-12.333)" points="0,98.8 1,95.4 2,98.8 3,89.7 4,92.4 5,92.6 6,98.4 7,95.4 8,92.4 9,95.4 10,94.5 11,94.7 12,99.8 13,98.6 14,100.7 15,97.8 16,92.4 17,89.8 18,87.2 19,88.6 20,84.6"/>
<g class="t" text-anchor="end"><text x="110" y="2977">0.102</text><text x="110" y="3002">0.100</text><text x="110" y="3026">0.098</text><text x="110" y="3051">0.096</text><text x="110" y="3076">0.094</text><text x="110" y="3100">0.092</text><text x="110" y="3125">0.090</text><text x="110" y="3150">0.088</text><text x="110" y="3174">0.086</text><text x="110" y="3199">0.084</text></g>
<g class="tk"><line x1="117" y1="2996.7" x2="125" y2="2996.7"/><line x1="117" y1="3021.3" x2="125" y2="3021.3"/><line x1="117" y1="3046" x2="125" y2="3046"/><line x1="117" y1="3070.7" x2="125" y2="3070.7"/><line x1="117" y1="3095.3" x2="125" y2="3095.3"/><line x1="117" y1="3120" x2="125" y2="3120"/><line x1="117" y1="3144.7" x2="125" y2="3144.7"/><line x1="117" y1="3169.3" x2="125" y2="3169.3"/>
<line x1="1683" y1="2996.7" x2="1675" y2="2996.7"/><line x1="1683" y1="3021.3" x2="1675" y2="3021.3"/><line x1="1683" y1="3046" x2="1675" y2="3046"/><line x1="1683" y1="3070.7" x2="1675" y2="3070.7"/><line x1="1683" y1="3095.3" x2="1675" y2="3095.3"/><line x1="1683" y1="3120" x2="1675" y2="3120"/><line x1="1683" y1="3144.7" x2="1675" y2="3144.7"/><line x1="1683" y1="3169.3" x2="1675" y2="3169.3"/>
<line x1="508.5" y1="2972" x2="508.5" y2="2980"/><line x1="900" y1="2972" x2="900" y2="2980"/><line x1="1291.5" y1="2972" x2="1291.5" y2="2980"/>
<line x1="508.5" y1="3194" x2="508.5" y2="3186"/><line x1="900" y1="3194" x2="900" y2="3186"/><line x1="1291.5" y1="3194" x2="1291.5" y2="3186"/></g>
<g class="t" text-anchor="middle"><text x="117" y="3215">06/19 22:12:39</text><text x="508.5" y="3215">06/19 22:12:44</text><text x="900" y="3215">06/19 22:12:49</text><text x="1291.5" y="3215">06/19 22:12:54</text><text x="1683" y="3215">06/19 22:12:59</text></g>
<text class="t" x="38" y="3083" text-anchor="middle" transform="rotate(-90 38 3083)">Tp(10<tspan font-size="10" dy="-5">6</tspan><tspan dy="5">K)</tspan></text>
<rect x="124" y="2988" width="71" height="27" fill="#fff" stroke="#000" stroke-width="2"/>
<line x1="134" y1="3001" x2="156" y2="3001" stroke="#00f" stroke-width="2"/>
<text x="170" y="3006" style="font-size:14px">Tp</text>
<rect class="ax" x="117" y="2972" width="1566" height="222"/>
</svg>
</body></html>
